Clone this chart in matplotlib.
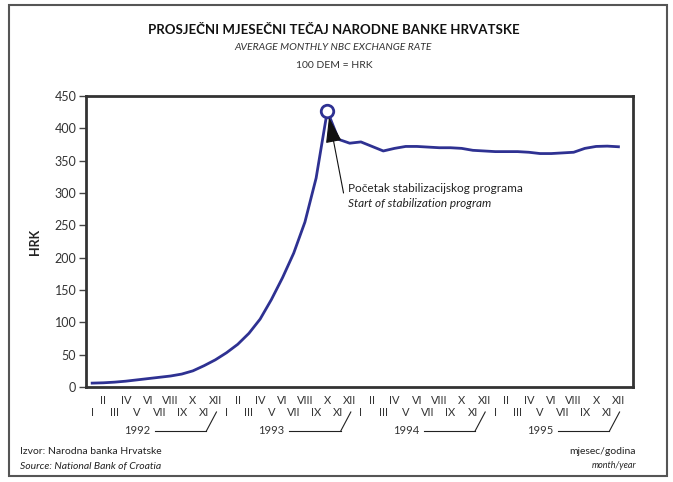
import matplotlib
matplotlib.use('Agg')
import matplotlib.pyplot as plt
from matplotlib.patches import Rectangle
import matplotlib.transforms as mtransforms

plt.rcParams['font.family'] = ['Lato', 'DejaVu Sans']

# monthly average rate, 100 DEM = HRK, Jan 1992 .. Dec 1995
rate = [6, 6.5, 7.5, 9, 11, 13, 15, 17, 20, 25, 33, 42,
        53, 66, 83, 105, 135, 169, 207, 255, 323, 427, 383, 377,
        379, 372, 365, 369, 372, 372, 371, 370, 370, 369, 366, 365,
        364, 364, 364, 363, 361, 361, 362, 363, 369, 372, 372.5, 371.5]
months = list(range(len(rate)))
roman = ['I', 'II', 'III', 'IV', 'V', 'VI', 'VII', 'VIII', 'IX', 'X', 'XI', 'XII']
years = ['1992', '1993', '1994', '1995']
peak_month = 21  # October 1993

line_color = '#2E3192'
text_color = '#333333'

fig = plt.figure(figsize=(6.73, 4.82), dpi=100)
W, H = 673, 482

# outer frame
fig.patches.append(Rectangle((9 / W, 1 - 476 / H), (667 - 9) / W, (476 - 5) / H,
                             transform=fig.transFigure, fill=False,
                             edgecolor='#555555', linewidth=1.5))

ax = fig.add_axes([86 / W, 1 - 387 / H, (633 - 86) / W, (387 - 96) / H])
ax.plot(months, rate, color=line_color, linewidth=2, solid_joinstyle='round')
ax.plot([months[peak_month]], [rate[peak_month]], marker='o', markersize=9,
        markerfacecolor='white', markeredgecolor=line_color, markeredgewidth=2)

ax.set_xlim(-0.55, 48.3)
ax.set_ylim(0, 450)
ax.set_yticks(range(0, 451, 50))
ax.tick_params(axis='y', direction='out', length=5, width=1, color='#444444',
               labelsize=9, labelcolor=text_color, pad=2)
ax.set_xticks([])
for s in ax.spines.values():
    s.set_linewidth(2)
    s.set_color('#333333')
ax.set_ylabel('HRK', fontsize=9, fontweight='bold', color='#222222', labelpad=10)

# month / year labels below axis
trans = mtransforms.blended_transform_factory(ax.transData, fig.transFigure)
for i in months:
    lab = roman[i % 12]
    ypix = 400 if (i % 12) % 2 == 1 else 412
    ax.text(i, 1 - ypix / H, lab, transform=trans, ha='center', va='center',
            fontsize=8, color=text_color)
for k, yr in enumerate(years):
    xc = 12 * k + 4.0
    ax.text(xc, 1 - 431 / H, yr, transform=trans, ha='center', va='center',
            fontsize=8, color=text_color)
    ax.plot([xc + 1.6, 12 * k + 10.2], [1 - 431 / H, 1 - 431 / H], transform=trans,
            color='#222222', linewidth=0.8, clip_on=False)
    ax.plot([12 * k + 10.2, 12 * k + 11.1], [1 - 431 / H, 1 - 412 / H], transform=trans,
            color='#222222', linewidth=0.8, clip_on=False)

# annotation
ax.annotate('', xy=(months[peak_month] + 0.15, rate[peak_month] - 10),
            xytext=(months[peak_month] + 1.45, 300),
            arrowprops=dict(arrowstyle='-|>,head_length=1.6,head_width=0.5',
                            color='#111111', linewidth=0.8, shrinkA=0, shrinkB=0))
ax.text(months[peak_month] + 1.85, 307, 'Početak stabilizacijskog programa',
        fontsize=8.5, color='#222222', va='center')
ax.text(months[peak_month] + 1.85, 283, 'Start of stabilization program',
        fontsize=8.5, color='#222222', va='center', style='italic')

# titles
fig.text(334 / W, 1 - 30 / H, 'PROSJEČNI MJESEČNI TEČAJ NARODNE BANKE HRVATSKE',
         ha='center', va='center', fontsize=9.5, fontweight='bold', color='#111111')
fig.text(333 / W, 1 - 47 / H, 'AVERAGE MONTHLY NBC EXCHANGE RATE',
         ha='center', va='center', fontsize=7.5, style='italic', color='#333333')
fig.text(334 / W, 1 - 65 / H, '100 DEM = HRK',
         ha='center', va='center', fontsize=7.5, color='#333333')

# source / unit notes
fig.text(20 / W, 1 - 452 / H, 'Izvor: Narodna banka Hrvatske',
         ha='left', va='center', fontsize=7.5, color='#222222')
fig.text(20 / W, 1 - 466 / H, 'Source: National Bank of Croatia',
         ha='left', va='center', fontsize=7.5, style='italic', color='#222222')
fig.text(636 / W, 1 - 452 / H, 'mjesec/godina',
         ha='right', va='center', fontsize=7.5, color='#222222')
fig.text(636 / W, 1 - 466 / H, 'month/year',
         ha='right', va='center', fontsize=6.5, style='italic', color='#222222')

fig.savefig('out.png', dpi=100)
